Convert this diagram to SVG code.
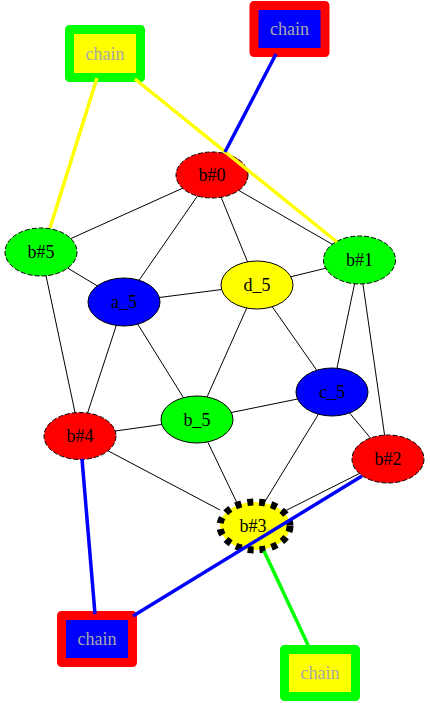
<svg xmlns="http://www.w3.org/2000/svg" width="430" height="703" viewBox="0 0 430 703">
<style>
text{font-family:"Liberation Serif","Times New Roman",serif;font-size:18px;text-anchor:middle;dominant-baseline:central}
.e{stroke:#000;stroke-width:1;fill:none}
.n{stroke:#000;stroke-width:1}
.b{stroke-dasharray:5,2}
.c{stroke-width:9;stroke-linejoin:round}
.ct{fill:#a8a8a8}
.ce{stroke-width:3.5;fill:none}
</style>
<rect width="430" height="703" fill="#fff"/>
<g id="edges">
<line class="e" x1="212" y1="175" x2="41" y2="252"/>
<line class="e" x1="212" y1="175" x2="124" y2="302"/>
<line class="e" x1="212" y1="175" x2="257" y2="285"/>
<line class="e" x1="212" y1="175" x2="359.5" y2="260"/>
<line class="e" x1="41" y1="252" x2="124" y2="302"/>
<line class="e" x1="41" y1="252" x2="80" y2="436"/>
<line class="e" x1="124" y1="302" x2="257" y2="285"/>
<line class="e" x1="124" y1="302" x2="80" y2="436"/>
<line class="e" x1="124" y1="302" x2="197" y2="419.5"/>
<line class="e" x1="257" y1="285" x2="359.5" y2="260"/>
<line class="e" x1="257" y1="285" x2="197" y2="419.5"/>
<line class="e" x1="257" y1="285" x2="332" y2="392"/>
<line class="e" x1="359.5" y1="260" x2="332" y2="392"/>
<line class="e" x1="359.5" y1="260" x2="388" y2="459"/>
<line class="e" x1="332" y1="392" x2="197" y2="419.5"/>
<line class="e" x1="332" y1="392" x2="264" y2="503"/>
<line class="e" x1="332" y1="392" x2="388" y2="459"/>
<line class="e" x1="197" y1="419.5" x2="80" y2="436"/>
<line class="e" x1="197" y1="419.5" x2="237" y2="503"/>
<line class="e" x1="80" y1="436" x2="220" y2="510"/>
<line class="e" x1="388" y1="459" x2="285" y2="511"/>
</g>
<g id="b0"><ellipse class="n b" cx="212" cy="175" rx="36" ry="23" fill="#f00"/><text x="212" y="175">b#0</text></g>
<g id="b5"><ellipse class="n b" cx="41" cy="252" rx="36" ry="24" fill="#0f0"/><text x="41" y="252">b#5</text></g>
<g id="a5"><ellipse class="n" cx="124" cy="302" rx="36" ry="24" fill="#00f"/><text x="124" y="302">a_5</text></g>
<g id="d5"><ellipse class="n" cx="257" cy="285" rx="36" ry="24" fill="#ff0"/><text x="257" y="285">d_5</text></g>
<g id="b1"><ellipse class="n b" cx="359.5" cy="260" rx="36" ry="24" fill="#0f0"/><text x="359.5" y="260">b#1</text></g>
<g id="c5"><ellipse class="n" cx="332" cy="392" rx="36" ry="24" fill="#00f"/><text x="332" y="392">c_5</text></g>
<g id="b_5"><ellipse class="n" cx="197" cy="419.5" rx="36" ry="23.5" fill="#0f0"/><text x="197" y="419.5">b_5</text></g>
<g id="b4"><ellipse class="n b" cx="80" cy="436" rx="36" ry="23.5" fill="#f00"/><text x="80" y="436">b#4</text></g>
<g id="b2"><ellipse class="n b" cx="388" cy="459" rx="36" ry="24" fill="#f00"/><text x="388" y="459">b#2</text></g>
<g id="b3"><ellipse cx="255" cy="526" rx="35" ry="24" fill="#ff0" stroke="#000" stroke-width="7" stroke-dasharray="6,6"/><text x="253" y="526">b#3</text></g>
<g id="chain1"><rect class="c" x="69.5" y="29.5" width="71" height="48" fill="#ff0" stroke="#0f0"/><text class="ct" x="105" y="53.5">chain</text></g>
<g id="chain2"><rect class="c" x="254" y="5.5" width="71" height="47" fill="#00f" stroke="#f00"/><text class="ct" x="289.5" y="29">chain</text></g>
<g id="chain3"><rect class="c" x="61.5" y="615.5" width="71" height="47" fill="#00f" stroke="#f00"/><text class="ct" x="97" y="639">chain</text></g>
<g id="chain4"><rect class="c" x="284.5" y="649.5" width="71" height="47" fill="#ff0" stroke="#0f0"/><text class="ct" x="320" y="673">chain</text></g>
<g id="chain-edges">
<line class="ce" stroke="#ff0" x1="97" y1="78" x2="50" y2="228"/>
<line class="ce" stroke="#ff0" x1="135" y1="79" x2="337" y2="242"/>
<line class="ce" stroke="#00f" x1="276" y1="54" x2="225" y2="152"/>
<line class="ce" stroke="#00f" x1="95" y1="614" x2="82" y2="459"/>
<line class="ce" stroke="#00f" x1="133" y1="616" x2="362" y2="476"/>
<line class="ce" stroke="#0f0" x1="308" y1="645" x2="264" y2="551"/>
</g>
</svg>
